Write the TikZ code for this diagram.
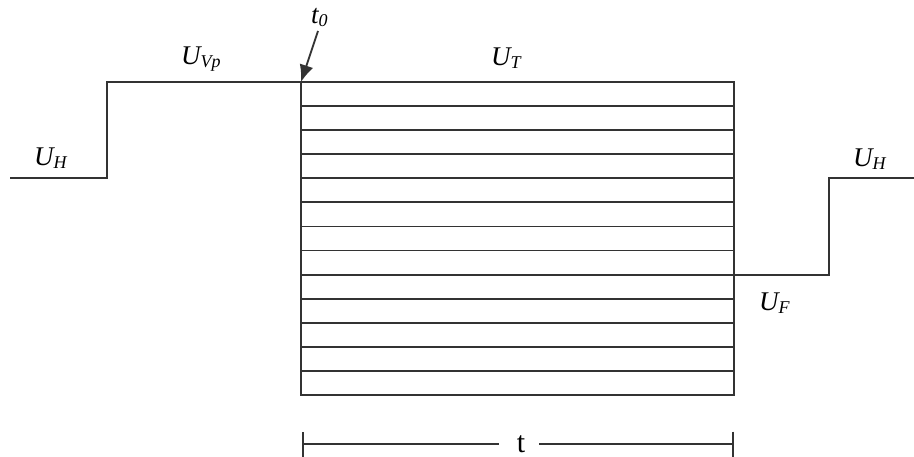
\documentclass[tikz,border=0pt]{standalone}
\usepackage{fontspec}
\setmainfont{Liberation Serif}
\usetikzlibrary{arrows.meta, positioning}
\definecolor{linegray}{RGB}{51,51,51}
\newcommand{\lowsub}[1]{\raisebox{-3pt}{\fontsize{18}{21}\selectfont #1}}

\begin{document}
\begin{tikzpicture}[x=1pt, y=-1pt,
    wave/.style={linegray, line width=1.8pt},
    lbl/.style={anchor=base west, inner sep=0pt, font=\fontsize{27}{32}\selectfont\itshape}]
  \useasboundingbox (0,0) rectangle (914,457);
  % Spannungsverlauf
  \coordinate (lstart) at (10,178);
  \coordinate (lstep) at (107,178);
  \coordinate (ltop) at (107,82);
  \coordinate (tzero) at (301,82);
  \coordinate (rstart) at (734,275);
  \coordinate (rstep) at (829,275);
  \coordinate (rtop) at (829,178);
  \coordinate (rend) at (914,178);
  \draw[wave] (lstart) -- (lstep) -- (ltop) -- (tzero);
  \draw[wave] (rstart) -- (rstep) -- (rtop) -- (rend);
  % Rechteck mit Streifen
  \draw[wave] (301,82) rectangle (734,395);
  \foreach \i in {1,...,12} \draw[wave] (301,82+24.08*\i) -- (734,82+24.08*\i);
  % Beschriftungen
  \node[lbl] (uhl) at (34,166) {U\lowsub{H}};
  \node[lbl] (uvp) at (181,65) {U\lowsub{Vp}};
  \node[lbl] (ut) at (491,66) {U\lowsub{T}};
  \node[lbl] (uhr) at (853,167) {U\lowsub{H}};
  \node[lbl] (uf) at (759,311) {U\lowsub{F}};
  \node[lbl] (tnull) at (311,24) {t\lowsub{0}};
  \draw[wave, -{Latex[length=17pt, width=14pt]}] (318,31) -- (tzero);
  % Dauer t
  \node[inner sep=0pt, font=\fontsize{30}{34}\selectfont] (tdur) at (521,444) {t};
  \draw[wave, {Bar[width=25pt]}-] (302,444) -- ([xshift=-22pt]tdur.center);
  \draw[wave, -{Bar[width=25pt]}] ([xshift=18pt]tdur.center) -- (734,444);
\end{tikzpicture}
\end{document}
